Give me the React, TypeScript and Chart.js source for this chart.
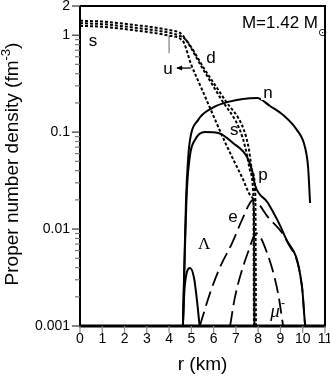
import React, { useEffect, useRef } from "react";
import { Chart, registerables } from "chart.js";
Chart.register(...registerables);

// ---- data (r in km, densities in fm^-3) ----
const dR = [0, 1, 2.5, 4, 4.5, 4.67, 5.52, 6.33, 7.18, 7.45, 7.63, 7.77, 7.79, 7.81];
const dN = [1.41, 1.38, 1.27, 1.13, 1.05, 0.958, 0.448, 0.22, 0.105, 0.0655, 0.0406, 0.0253, 0.0157, 0.001];
const uR = [0, 1, 2.5, 4, 4.5, 4.76, 5.61, 6.51, 7.36, 7.59, 7.72, 7.86, 7.88, 7.9];
const uN = [1.33, 1.3, 1.19, 1.06, 0.98, 0.891, 0.438, 0.214, 0.105, 0.0655, 0.0406, 0.0253, 0.014, 0.001];
const sR = [0, 1, 2.5, 4, 4.5, 4.67, 4.98, 5.39, 5.84, 6.51, 7.27, 7.72, 7.81, 7.83];
const sN = [1.25, 1.22, 1.12, 0.99, 0.92, 0.83, 0.505, 0.306, 0.177, 0.079, 0.0344, 0.0214, 0.0157, 0.001];
const nR = [4.62, 4.67, 4.76, 4.85, 4.94, 5.3, 5.93, 6.65, 7.95, 8.53, 9.12, 9.74, 10.1, 10.24, 10.33];
const nN = [0.001, 0.003, 0.02, 0.0515, 0.083, 0.133, 0.177, 0.205, 0.225, 0.186, 0.15, 0.105, 0.0703, 0.0437, 0.0186];
const pR = [4.62, 4.71, 4.8, 4.94, 5.16, 5.61, 6.2, 6.87, 7.5, 7.72, 7.86, 8.44, 9.21, 9.97, 10.1, 10.12];
const pN = [0.001, 0.0061, 0.0253, 0.058, 0.083, 0.1, 0.098, 0.0773, 0.0554, 0.0406, 0.0283, 0.0186, 0.0083, 0.00252, 0.00107, 0.001];
const eR = [5.38, 5.84, 6.29, 6.83, 7.27, 7.63, 7.77, 8.44, 9.3, 9.97, 10.1, 10.12];
const eN = [0.001, 0.00219, 0.00406, 0.00718, 0.0124, 0.0186, 0.02, 0.0133, 0.0074, 0.0025, 0.00107, 0.001];
const muR = [6.74, 6.96, 7.63, 7.9, 8.4, 8.89, 9.12];
const muN = [0.001, 0.002, 0.00654, 0.0091, 0.00566, 0.00219, 0.001];
const lamR = [4.62, 4.69, 4.8, 4.94, 5.12, 5.25, 5.37];
const lamN = [0.001, 0.00235, 0.0036, 0.00397, 0.00313, 0.00185, 0.001];
const markR = [4.0, 4.0];
const markN = [1.0, 0.65];

const xTickValues = [0, 1, 2, 3, 4, 5, 6, 7, 8, 9, 10, 11];
const yTickValues = [0.001, 0.01, 0.1, 1, 2];
const yTickLabels = ["0.001", "0.01", "0.1", "1", "2"];

// curve labels: [text, r, density]
const curveLabels: [string, number, number][] = [
  ["s", 0.58, 0.87],
  ["u", 3.95, 0.448],
  ["d", 5.88, 0.58],
  ["n", 8.44, 0.254],
  ["s", 6.92, 0.105],
  ["p", 8.22, 0.0361],
  ["e", 6.87, 0.0133],
];

const SANS = '"Liberation Sans", Arial, Helvetica, sans-serif';
const SERIF = '"Liberation Serif", "Times New Roman", serif';

const pts = (r: number[], v: number[]) => r.map((x, i) => ({ x, y: v[i] }));

const decorPlugin = {
  id: "decor",
  afterDatasetsDraw(chart: any) {
    const { ctx, scales } = chart;
    const x = scales.x, y = scales.y;
    ctx.save();
    ctx.fillStyle = "#000";
    ctx.textAlign = "center";
    ctx.textBaseline = "middle";
    ctx.font = `17px ${SANS}`;
    for (const [t, r, v] of curveLabels) {
      const px = x.getPixelForValue(r), py = y.getPixelForValue(v);
      if (t === "n") {
        ctx.fillStyle = "#fff";
        ctx.fillRect(px - 7, py - 9, 14, 16);
        ctx.fillStyle = "#000";
      }
      ctx.fillText(t, px, py);
    }
    // arrow next to u
    {
      const y0 = y.getPixelForValue(0.458);
      const x0 = x.getPixelForValue(4.36), x1 = x.getPixelForValue(4.98);
      ctx.strokeStyle = "#000";
      ctx.lineWidth = 1.3;
      ctx.beginPath();
      ctx.moveTo(x0, y0);
      ctx.lineTo(x1, y0);
      ctx.stroke();
      ctx.beginPath();
      ctx.moveTo(x0 - 1, y0);
      ctx.lineTo(x0 + 5, y0 - 2.5);
      ctx.lineTo(x0 + 5, y0 + 2.5);
      ctx.closePath();
      ctx.fill();
    }
    // Lambda
    ctx.font = `17px ${SERIF}`;
    ctx.fillText("\u039B", x.getPixelForValue(5.57), y.getPixelForValue(0.00685));
    // mu-
    {
      const px = x.getPixelForValue(8.89), py = y.getPixelForValue(0.00139);
      ctx.font = `italic 19px ${SERIF}`;
      ctx.fillText("\u03BC", px - 3, py);
      ctx.font = `12px ${SANS}`;
      ctx.fillText("-", px + 5, py - 8);
    }
    ctx.restore();
  },
  afterDraw(chart: any) {
    const { ctx, chartArea: ca, scales } = chart;
    const x = scales.x, y = scales.y;
    ctx.save();
    // frame
    ctx.strokeStyle = "#000";
    ctx.lineWidth = 2;
    ctx.beginPath();
    ctx.moveTo(ca.left, ca.top);
    ctx.lineTo(ca.right, ca.top);
    ctx.lineTo(ca.right, ca.bottom);
    ctx.stroke();
    ctx.lineWidth = 2;
    ctx.beginPath();
    ctx.moveTo(ca.left, ca.top);
    ctx.lineTo(ca.left, ca.bottom);
    ctx.stroke();
    ctx.lineWidth = 3;
    ctx.beginPath();
    ctx.moveTo(ca.left - 1, ca.bottom);
    ctx.lineTo(ca.right + 1, ca.bottom);
    ctx.stroke();
    // y ticks
    ctx.lineWidth = 1.2;
    for (let d = -3; d <= 0; d++) {
      for (let m = 1; m <= 9; m++) {
        const v = m * Math.pow(10, d);
        if (v > 2.0001) continue;
        const py = y.getPixelForValue(v);
        const major = m === 1 || (d === 0 && m === 2);
        ctx.strokeStyle = major ? "#333" : "#777";
        ctx.beginPath();
        ctx.moveTo(ca.left - (major ? 8 : 5), py);
        ctx.lineTo(ca.left, py);
        ctx.stroke();
      }
    }
    // x ticks
    ctx.strokeStyle = "#888";
    for (const v of xTickValues) {
      const px = x.getPixelForValue(v);
      ctx.beginPath();
      ctx.moveTo(px, ca.bottom);
      ctx.lineTo(px, ca.bottom + 7);
      ctx.stroke();
    }
    // axis titles
    ctx.fillStyle = "#000";
    ctx.textBaseline = "middle";
    ctx.font = `19px ${SANS}`;
    ctx.textAlign = "center";
    ctx.fillText("r (km)", (ca.left + ca.right) / 2, 365);
    {
      ctx.save();
      ctx.translate(13, 164);
      ctx.rotate(-Math.PI / 2);
      const main = "Proper number density (fm";
      ctx.font = `19px ${SANS}`;
      const w1 = ctx.measureText(main).width;
      ctx.font = `13px ${SANS}`;
      const w2 = ctx.measureText("-3").width;
      ctx.font = `19px ${SANS}`;
      const w3 = ctx.measureText(")").width;
      const tot = w1 + w2 + w3;
      let cx = -tot / 2;
      ctx.textAlign = "left";
      ctx.fillText(main, cx, 0);
      cx += w1;
      ctx.font = `13px ${SANS}`;
      ctx.fillText("-3", cx, -7);
      cx += w2;
      ctx.font = `19px ${SANS}`;
      ctx.fillText(")", cx, 0);
      ctx.restore();
    }
    // mass annotation
    ctx.textAlign = "right";
    ctx.font = `17px ${SANS}`;
    ctx.fillText("M=1.42 M", ca.right - 7, ca.top + 17);
    ctx.textAlign = "left";
    ctx.font = `11px "DejaVu Sans", sans-serif`;
    ctx.fillText("\u2299", ca.right - 7, ca.top + 27);
    ctx.restore();
  },
};

export default function App() {
  const ref = useRef<HTMLCanvasElement | null>(null);
  useEffect(() => {
    document.body.style.margin = "0";
    if (!ref.current) return;
    const dotted = { borderColor: "#000", borderWidth: 2, borderDash: [3, 2], pointRadius: 0, fill: false };
    const solid = { borderColor: "#000", borderWidth: 2, pointRadius: 0, fill: false };
    const longDash = { borderColor: "#000", borderWidth: 1.8, borderDash: [15, 6], pointRadius: 0, fill: false };
    const chart = new Chart(ref.current, {
      type: "line",
      data: {
        datasets: [
          { label: "d", data: pts(dR, dN), ...dotted },
          { label: "u", data: pts(uR, uN), ...dotted },
          { label: "s", data: pts(sR, sN), ...dotted },
          { label: "n", data: pts(nR, nN), ...solid },
          { label: "p", data: pts(pR, pN), ...solid },
          { label: "e", data: pts(eR, eN), ...longDash },
          { label: "mu", data: pts(muR, muN), ...longDash },
          { label: "Lambda", data: pts(lamR, lamN), ...solid },
          { label: "mark", data: pts(markR, markN), borderColor: "#999", borderWidth: 1.5, pointRadius: 0 },
        ] as any,
      },
      options: {
        responsive: false,
        animation: false,
        events: [],
        elements: { line: { cubicInterpolationMode: "monotone" } },
        layout: { padding: { top: 6, right: 5, left: 0, bottom: 0 } },
        plugins: { legend: { display: false }, tooltip: { enabled: false } },
        scales: {
          x: {
            type: "linear",
            min: 0,
            max: 11,
            afterBuildTicks: (s: any) => {
              s.ticks = xTickValues.map((v) => ({ value: v }));
            },
            afterFit: (s: any) => {
              s.height = 56;
              s.paddingLeft = 0;
              s.paddingRight = 0;
            },
            grid: { display: false, drawTicks: false },
            border: { display: false },
            ticks: { autoSkip: false, maxRotation: 0, padding: 5, color: "#000", font: { family: SANS, size: 14 }, callback: (v: any) => String(v) },
          },
          y: {
            type: "logarithmic",
            min: 0.001,
            max: 2,
            afterBuildTicks: (s: any) => {
              s.ticks = yTickValues.map((v) => ({ value: v }));
            },
            afterFit: (s: any) => {
              s.width = 80;
              s.paddingTop = 0;
              s.paddingBottom = 0;
            },
            grid: { display: false, drawTicks: false },
            border: { display: false },
            ticks: { autoSkip: false, padding: 10, color: "#000", font: { family: SANS, size: 14 }, callback: (_v: any, i: number) => yTickLabels[i] },
          },
        },
      } as any,
      plugins: [decorPlugin],
    });
    return () => chart.destroy();
  }, []);
  return <canvas ref={ref} width={330} height={382} style={{ display: "block" }} />;
}
